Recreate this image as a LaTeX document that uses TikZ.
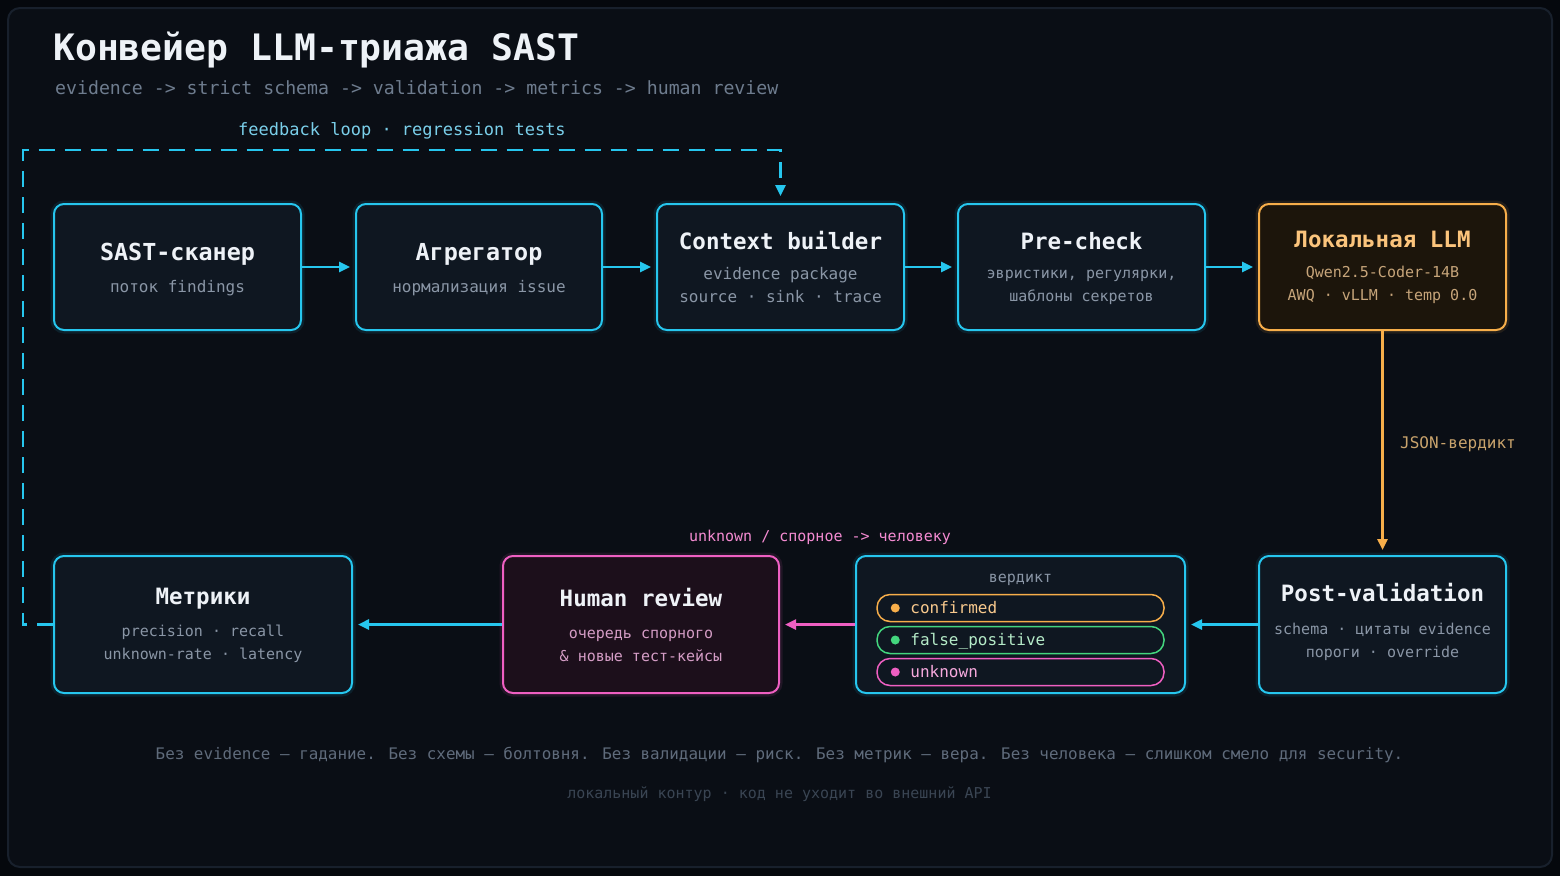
\documentclass[tikz,border=0pt]{standalone}
\usepackage{fontspec}
\setmainfont{DejaVu Sans Mono}
\usetikzlibrary{arrows.meta, calc}
\usepackage{xcolor}

\definecolor{bgdark}{HTML}{05080D}
\definecolor{panelbg}{HTML}{0A0E15}
\definecolor{panelline}{HTML}{18202C}
\definecolor{boxbg}{HTML}{0F1721}
\definecolor{cyanline}{HTML}{26C6EE}
\definecolor{orangeline}{HTML}{F7AE4A}
\definecolor{pinkline}{HTML}{EF5FC2}
\definecolor{greenline}{HTML}{43D67E}
\definecolor{llmbg}{HTML}{1C150B}
\definecolor{humanbg}{HTML}{1C0F1B}
\definecolor{titlewhite}{HTML}{EEF2F7}
\definecolor{subgray}{HTML}{8A96A6}
\definecolor{headgray}{HTML}{6E7C8E}
\definecolor{footgray}{HTML}{5F6B7B}
\definecolor{footdim}{HTML}{3A4553}
\definecolor{loopcyan}{HTML}{7ACFEA}
\definecolor{llmtitle}{HTML}{FBC47C}
\definecolor{llmsub}{HTML}{C7A57A}
\definecolor{jsontan}{HTML}{C9A36C}
\definecolor{humansub}{HTML}{D59DC6}
\definecolor{pinktext}{HTML}{F58BD2}
\definecolor{conftext}{HTML}{F8C98D}
\definecolor{fptext}{HTML}{B5EBC8}
\definecolor{unktext}{HTML}{F6A9DD}

\newcommand{\pxsize}[1]{\fontsize{#1}{#1}\selectfont}

\begin{document}
\begin{tikzpicture}[x=1pt, y=-1pt,
    stage/.style={draw=#1, line width=2pt, rounded corners=10pt, inner sep=0pt,
        minimum height=126pt, minimum width=247pt,
        preaction={draw=#1, draw opacity=0.10, line width=7pt}},
    stage/.default=cyanline,
    boxtitle/.style={anchor=base, text=titlewhite, font=\pxsize{22.5}\bfseries, inner sep=0pt},
    boxsub/.style={anchor=base, text=subgray, font=\pxsize{15}, inner sep=0pt},
    flow/.style={-{Triangle[length=11pt,width=10pt]}, line width=2.5pt, draw=cyanline, shorten >=5pt},
    pill/.style={draw=#1, fill=boxbg, line width=1.5pt, rounded corners=13pt,
        minimum width=287pt, minimum height=27pt, inner sep=0pt},
    dot/.style={circle, fill=#1, minimum size=9pt, inner sep=0pt},
    pilltext/.style={anchor=base west, font=\pxsize{16}, inner sep=0pt}]
    \useasboundingbox (0,0) rectangle (1560,876);
    \fill[bgdark] (0,0) rectangle (1560,876);
    \draw[panelline, fill=panelbg, line width=2pt, rounded corners=12pt] (8,8) rectangle (1552,867);

    % heading
    \node[anchor=base west, inner sep=0pt, text=titlewhite, font=\pxsize{36.4}\bfseries] (title) at (53,60) {Конвейер LLM-триажа SAST};
    \node[anchor=base west, inner sep=0pt, text=headgray, font=\pxsize{18.2}] (subtitle) at (55,94) {evidence -> strict schema -> validation -> metrics -> human review};

    % upper row
    \node[stage, fill=boxbg] (sast) at (177.5,267) {};
    \node[stage, fill=boxbg, minimum width=246pt] (agg) at (479,267) {};
    \node[stage, fill=boxbg] (ctx) at (780.5,267) {};
    \node[stage, fill=boxbg] (precheck) at (1081.5,267) {};
    \node[stage=orangeline, fill=llmbg] (llm) at (1382.5,267) {};

    \node[boxtitle, font=\pxsize{23.4}\bfseries] (sastt) at (177.5,260.5) {SAST-сканер};
    \node[boxsub, font=\pxsize{16}] (sasts) at (177.5,292) {поток findings};
    \node[boxtitle, font=\pxsize{23.4}\bfseries] (aggt) at (479,260.5) {Агрегатор};
    \node[boxsub, font=\pxsize{16}] (aggs) at (479,292) {нормализация issue};
    \node[boxtitle] (ctxt) at (780.5,249.5) {Context builder};
    \node[boxsub, font=\pxsize{16}] (ctxa) at (780.5,279) {evidence package};
    \node[boxsub, font=\pxsize{16}] (ctxb) at (780.5,302.5) {source · sink · trace};
    \node[boxtitle] (pret) at (1081.5,249.5) {Pre-check};
    \node[boxsub] (prea) at (1081.5,278.5) {эвристики, регулярки,};
    \node[boxsub] (preb) at (1081.5,301) {шаблоны секретов};
    \node[boxtitle, text=llmtitle] (llmt) at (1382.5,247.5) {Локальная LLM};
    \node[boxsub, text=llmsub] (llma) at (1382.5,277) {Qwen2.5-Coder-14B};
    \node[boxsub, text=llmsub] (llmb) at (1382.5,300.5) {AWQ · vLLM · temp 0.0};

    \draw[flow] (sast.east) -- (agg.west);
    \draw[flow] (agg.east) -- (ctx.west);
    \draw[flow] (ctx.east) -- (precheck.west);
    \draw[flow] (precheck.east) -- (llm.west);

    % lower row
    \node[stage, fill=boxbg, minimum width=298pt, minimum height=137pt] (metrics) at (203,624.5) {};
    \node[stage=pinkline, fill=humanbg, minimum width=276pt, minimum height=137pt] (human) at (641,624.5) {};
    \node[stage, fill=boxbg, minimum width=329pt, minimum height=137pt] (verdict) at (1020.5,624.5) {};
    \node[stage, fill=boxbg, minimum height=137pt] (postval) at (1382.5,624.5) {};

    \node[boxtitle] (metricst) at (203,604) {Метрики};
    \node[boxsub] (metricsa) at (203,636) {precision · recall};
    \node[boxsub] (metricsb) at (203,659.5) {unknown-rate · latency};
    \node[boxtitle] (humant) at (641,606.5) {Human review};
    \node[boxsub, text=humansub] (humana) at (641,638.5) {очередь спорного};
    \node[boxsub, text=humansub] (humanb) at (641,661.5) {\& новые тест-кейсы};
    \node[boxtitle] (postt) at (1382.5,601.5) {Post-validation};
    \node[boxsub] (posta) at (1382.5,634) {schema · цитаты evidence};
    \node[boxsub] (postb) at (1382.5,657) {пороги · override};

    \node[boxsub] (verdictt) at (1020.5,582.5) {вердикт};
    \node[pill=orangeline] (pconf) at (1020.5,608) {};
    \node[pill=greenline] (pfp) at (1020.5,640) {};
    \node[pill=pinkline] (punk) at (1020.5,672) {};
    \node[dot=orangeline] (dconf) at ($(pconf.west)+(19,0)$) {};
    \node[dot=greenline] (dfp) at ($(pfp.west)+(19,0)$) {};
    \node[dot=pinkline] (dunk) at ($(punk.west)+(19,0)$) {};
    \node[pilltext, text=conftext] (tconf) at ($(pconf.west)+(34,5.5)$) {confirmed};
    \node[pilltext, text=fptext] (tfp) at ($(pfp.west)+(34,5.5)$) {false\_positive};
    \node[pilltext, text=unktext] (tunk) at ($(punk.west)+(34,5.5)$) {unknown};

    \draw[flow, draw=orangeline] (llm.south) -- (postval.north);
    \node[anchor=base west, inner sep=0pt, text=jsontan, font=\pxsize{16}] (jsonlbl) at (1400,448) {JSON-вердикт};
    \draw[flow] (postval.west) -- (verdict.east);
    \draw[flow, draw=pinkline] (verdict.west) -- (human.east);
    \node[anchor=base, inner sep=0pt, text=pinktext, font=\pxsize{15}] (unklbl) at (820,541.5) {unknown / спорное -> человеку};
    \draw[flow] (human.west) -- (metrics.east);

    % feedback loop
    \coordinate (loopcorner) at (23,150);
    \draw[cyanline, line width=2.5pt, dash pattern=on 16pt off 10pt, -{Triangle[length=11pt,width=10pt]}, shorten >=7pt]
        (metrics.west) -| (loopcorner) -| (ctx.north);
    \node[anchor=base, inner sep=0pt, text=loopcyan, font=\pxsize{17}] (looplbl) at (402,135.5) {feedback loop · regression tests};

    % footer
    \node[anchor=base, inner sep=0pt, text=footgray, font=\pxsize{15.9}] (foot) at (779.5,759) {Без evidence — гадание. Без схемы — болтовня. Без валидации — риск. Без метрик — вера. Без человека — слишком смело для security.};
    \node[anchor=base, inner sep=0pt, text=footdim, font=\pxsize{15}] (footnote) at (779.5,798) {локальный контур · код не уходит во внешний API};
\end{tikzpicture}
\end{document}
